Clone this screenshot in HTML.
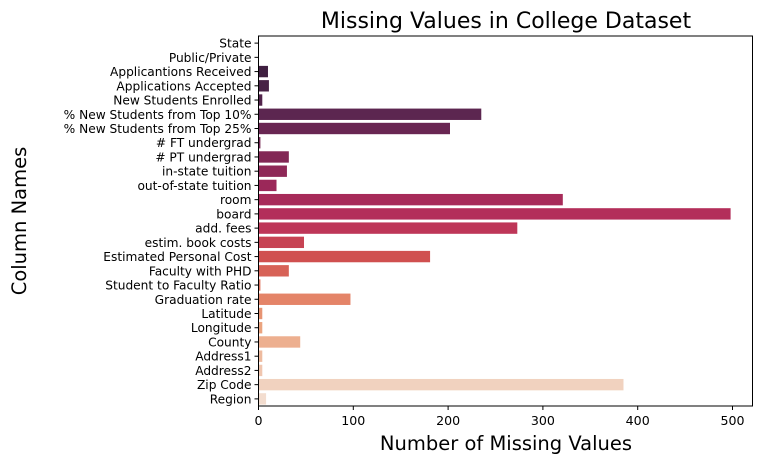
<!DOCTYPE html>
<html><head><meta charset="utf-8"><style>
body{margin:0;background:#fff;}
svg text{font-family:"DejaVu Sans","Liberation Sans",sans-serif;fill:#000;}
</style></head><body>
<svg id="chart" width="764" height="464" xmlns="http://www.w3.org/2000/svg">
<text x="506" y="28" font-size="22" text-anchor="middle">Missing Values in College Dataset</text>
<text transform="translate(26,221) rotate(-90)" font-size="19.5" text-anchor="middle">Column Names</text>
<text x="506" y="450" font-size="19.5" text-anchor="middle">Number of Missing Values</text>
<g id="bars"></g><g id="yticks"></g><g id="xticks"></g>
<rect x="258.5" y="36" width="494" height="370" fill="none" stroke="#000" stroke-width="1"/>
</svg>
<script>
const categories=["State","Public/Private","Applicantions Received","Applications Accepted","New Students Enrolled","% New Students from Top 10%","% New Students from Top 25%","# FT undergrad","# PT undergrad","in-state tuition","out-of-state tuition","room","board","add. fees","estim. book costs","Estimated Personal Cost","Faculty with PHD","Student to Faculty Ratio","Graduation rate","Latitude","Longitude","County","Address1","Address2","Zip Code","Region"];
const missingValues=[0,0,10,11,4,235,202,2,32,30,19,321,498,273,48,181,32,2,97,4,4,44,4,4,385,8];
const xTicks=[0,100,200,300,400,500];
const NS="http://www.w3.org/2000/svg";
const x0=258.5,pxPer=0.948,plotTop=36,plotBottom=406;
const band=(plotBottom-plotTop)/categories.length;
const xScale=v=>x0+v*pxPer;
const yScale=i=>plotTop+band*(i+0.5);
const anchors=[[0,[43,27,54]],[0.2,[92,38,80]],[0.4,[155,40,89]],[0.5,[185,48,90]],[0.6,[208,80,79]],[0.7,[226,124,98]],[0.8,[235,164,127]],[1,[243,221,207]]];
function col(t){for(let k=0;k<anchors.length-1;k++){const a=anchors[k][0],ca=anchors[k][1],b=anchors[k+1][0],cb=anchors[k+1][1];if(t<=b){const f=(t-a)/(b-a);return"rgb("+ca.map((c,j)=>Math.round(c+(cb[j]-c)*f)).join(",")+")";}}return"rgb(243,221,207)";}
const barsG=document.getElementById('bars'),ytG=document.getElementById('yticks'),xtG=document.getElementById('xticks');
categories.forEach((c,i)=>{
 const y=yScale(i);
 const r=document.createElementNS(NS,'rect');
 
 
 r.setAttribute('x',xScale(0));r.setAttribute('y',y-band*0.4);
 r.setAttribute('width',Math.max(0,xScale(missingValues[i])-xScale(0)));r.setAttribute('height',band*0.8);
 r.setAttribute('fill',col(i/(categories.length-1)));
 barsG.appendChild(r);
 const l=document.createElementNS(NS,'line');
 
 
 l.setAttribute('x1',x0-4);l.setAttribute('x2',x0);l.setAttribute('y1',y);l.setAttribute('y2',y);l.setAttribute('stroke','#000');
 ytG.appendChild(l);
 const t=document.createElementNS(NS,'text');
 
 
 t.setAttribute('x',x0-7);t.setAttribute('y',y+4.5);t.setAttribute('font-size','12.2');t.setAttribute('text-anchor','end');
 t.textContent=c;ytG.appendChild(t);
});
xTicks.forEach(v=>{
 const x=xScale(v);
 const l=document.createElementNS(NS,'line');
 
 
 l.setAttribute('x1',x);l.setAttribute('x2',x);l.setAttribute('y1',plotBottom);l.setAttribute('y2',plotBottom+4);l.setAttribute('stroke','#000');
 xtG.appendChild(l);
 const t=document.createElementNS(NS,'text');
 
 
 t.setAttribute('x',x);t.setAttribute('y',plotBottom+19);t.setAttribute('font-size','12.6');t.setAttribute('text-anchor','middle');
 t.textContent=v;xtG.appendChild(t);
});
</script>
</body></html>
